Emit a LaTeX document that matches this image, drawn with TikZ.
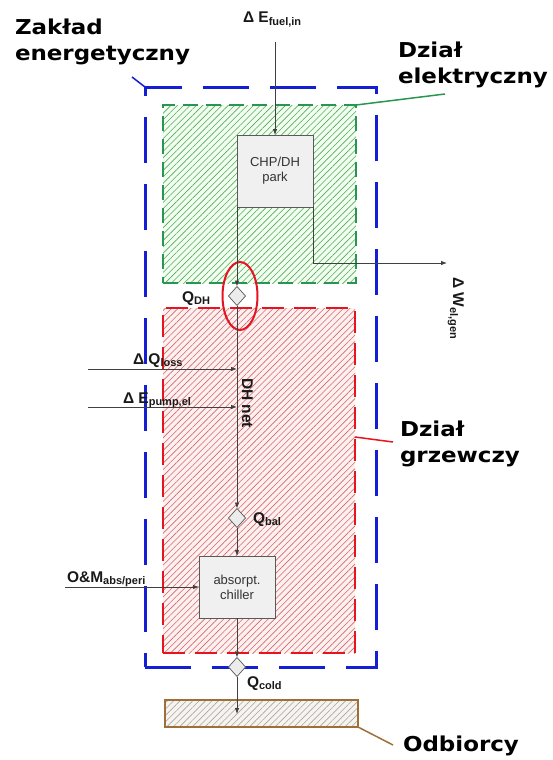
\documentclass[tikz,border=0pt]{standalone}
\usepackage{fontspec}
\setmainfont{Liberation Sans}
\newfontfamily\zonefont{DejaVu Sans}[FakeStretch=1.12]
\usetikzlibrary{arrows.meta,positioning,shapes.geometric,patterns.meta}
\definecolor{plantblue}{RGB}{20,30,210}
\definecolor{elecgreen}{RGB}{40,150,80}
\definecolor{heatred}{RGB}{230,20,30}
\definecolor{hatchred}{RGB}{205,105,110}
\definecolor{userbrown}{RGB}{160,110,55}
\newcommand{\lowidx}[1]{\raisebox{-0.35ex}{\fontsize{11}{11}\selectfont #1}}

\begin{document}
\begin{tikzpicture}[x=1pt,y=-1pt,>={Latex[length=6pt,width=4.5pt]},
  every node/.style={inner sep=0pt,outer sep=0pt},
  zone/.style={draw,rectangle,line width=2.2pt},
  box/.style={draw=gray!70!black,fill=gray!12,line width=0.7pt,align=center,
    font=\fontsize{13}{15}\selectfont,text=black!80},
  valve/.style={diamond,draw=gray!70!black,fill=gray!15,line width=0.7pt,
    minimum width=17pt,minimum height=19pt},
  flow/.style={draw=black!75,line width=0.8pt},
  lbl/.style={font=\fontsize{15.5}{17}\selectfont\bfseries,text=black!90},
  zlbl/.style={font=\zonefont\bfseries\fontsize{20.5}{26}\selectfont,align=left,anchor=north west},
  lead/.style={line width=1.5pt}]
  \useasboundingbox (0,0) rectangle (552,760);

  % areas
  \node[zone,draw=plantblue,line width=3pt,dash pattern=on 46pt off 21pt,
    minimum width=231pt,minimum height=580pt] (plant) at (260.5,377) {};
  \node[zone,draw=elecgreen,dash pattern=on 15pt off 8pt,preaction={fill=green!6},
    pattern={Lines[angle=45,distance=4.5pt,line width=0.6pt]},pattern color=green!30!gray,
    minimum width=193pt,minimum height=178pt] (elec) at (259.5,194) {};
  \node[zone,draw=heatred,line width=2.5pt,dash pattern=on 22pt off 10pt,preaction={fill=red!6},
    pattern={Lines[angle=45,distance=4.5pt,line width=0.6pt]},pattern color=hatchred,
    minimum width=192pt,minimum height=345pt] (heat) at (259,480.5) {};
  \node[zone,draw=userbrown,line width=1.6pt,preaction={fill=userbrown!8},
    pattern={Lines[angle=45,distance=4.5pt,line width=0.6pt]},pattern color=gray!70,
    minimum width=193pt,minimum height=27pt] (users) at (261.5,713.5) {};

  % units
  \node[box,minimum width=76pt,minimum height=72pt] (chp) at (275,171) {CHP/DH\\park};
  \node[box,minimum width=76pt,minimum height=62pt] (chiller) at (237,587) {absorpt.\\chiller};
  \node[valve] (qdh) at (237,296) {};
  \node[valve] (qbal) at (237,518) {};
  \node[valve] (qcold) at (237,667) {};
  \node[ellipse,draw=heatred,line width=2pt,minimum width=35pt,minimum height=68pt] (ring) at (240,296) {};

  \coordinate (fuelin) at (275,42);
  \coordinate (welout) at (447,263);
  \coordinate (lossin) at (88,369);
  \coordinate (losstap) at (237,369);
  \coordinate (pumpin) at (88,407);
  \coordinate (pumptap) at (237,407);
  \coordinate (omin) at (65,587);
  \coordinate (usersin) at (237,714);

  % flows
  \draw[flow,->] (fuelin) -- (chp.north);
  \draw[flow,->] (chp.south west) -- (qdh.north);
  \draw[flow,->] (chp.south east) |- (welout);
  \draw[flow,->] (qdh.south) -- (qbal.north);
  \draw[flow,->] (lossin) -- (losstap);
  \draw[flow,->] (pumpin) -- (pumptap);
  \draw[flow,->] (qbal.south) -- (chiller.north);
  \draw[flow,->] (omin) -- (chiller.west);
  \draw[flow,->] (chiller.south) -- (qcold.north);
  \draw[flow,->] (qcold.south) -- (usersin);

  % flow labels
  \node[lbl,anchor=base west] (fuellbl) at (243,23) {Δ E\lowidx{fuel,in}};
  \node[lbl,anchor=base west] (qdhlbl) at (182,302) {Q\lowidx{DH}};
  \node[lbl,anchor=base west,rotate=-90] (wellbl) at (453,277) {Δ W\lowidx{el,gen}};
  \node[lbl,anchor=base west] (losslbl) at (133,364) {Δ Q\lowidx{loss}};
  \node[lbl,anchor=base west] (pumplbl) at (123,403) {Δ E\lowidx{pump,el}};
  \node[lbl,anchor=base west,rotate=-90] (netlbl) at (242,378) {DH net};
  \node[lbl,anchor=base west] (qballbl) at (253,523) {Q\lowidx{bal}};
  \node[lbl,anchor=base west] (omlbl) at (67,582) {O\&M\lowidx{abs/peri}};
  \node[lbl,anchor=base west] (qcoldlbl) at (247,687) {Q\lowidx{cold}};

  % area labels
  \node[zlbl] (plantlbl) at (15,19) {Zakład\\energetyczny};
  \node[zlbl] (eleclbl) at (398,42) {Dział\\elektryczny};
  \node[zlbl] (heatlbl) at (400,421) {Dział\\grzewczy};
  \node[zlbl] (userslbl) at (403,736) {Odbiorcy};

  \coordinate (plantlead) at (132,77);
  \coordinate (eleclead) at (445,94);
  \coordinate (heatlead) at (393,442);
  \coordinate (userslead) at (393,745);
  \draw[lead,draw=plantblue] (plantlead) -- (plant.north west);
  \draw[lead,draw=elecgreen] (elec.north east) -- (eleclead);
  \draw[lead,draw=heatred] ([yshift=43.5pt]heat.east) -- (heatlead);
  \draw[lead,draw=userbrown] (users.south east) -- (userslead);
\end{tikzpicture}
\end{document}
